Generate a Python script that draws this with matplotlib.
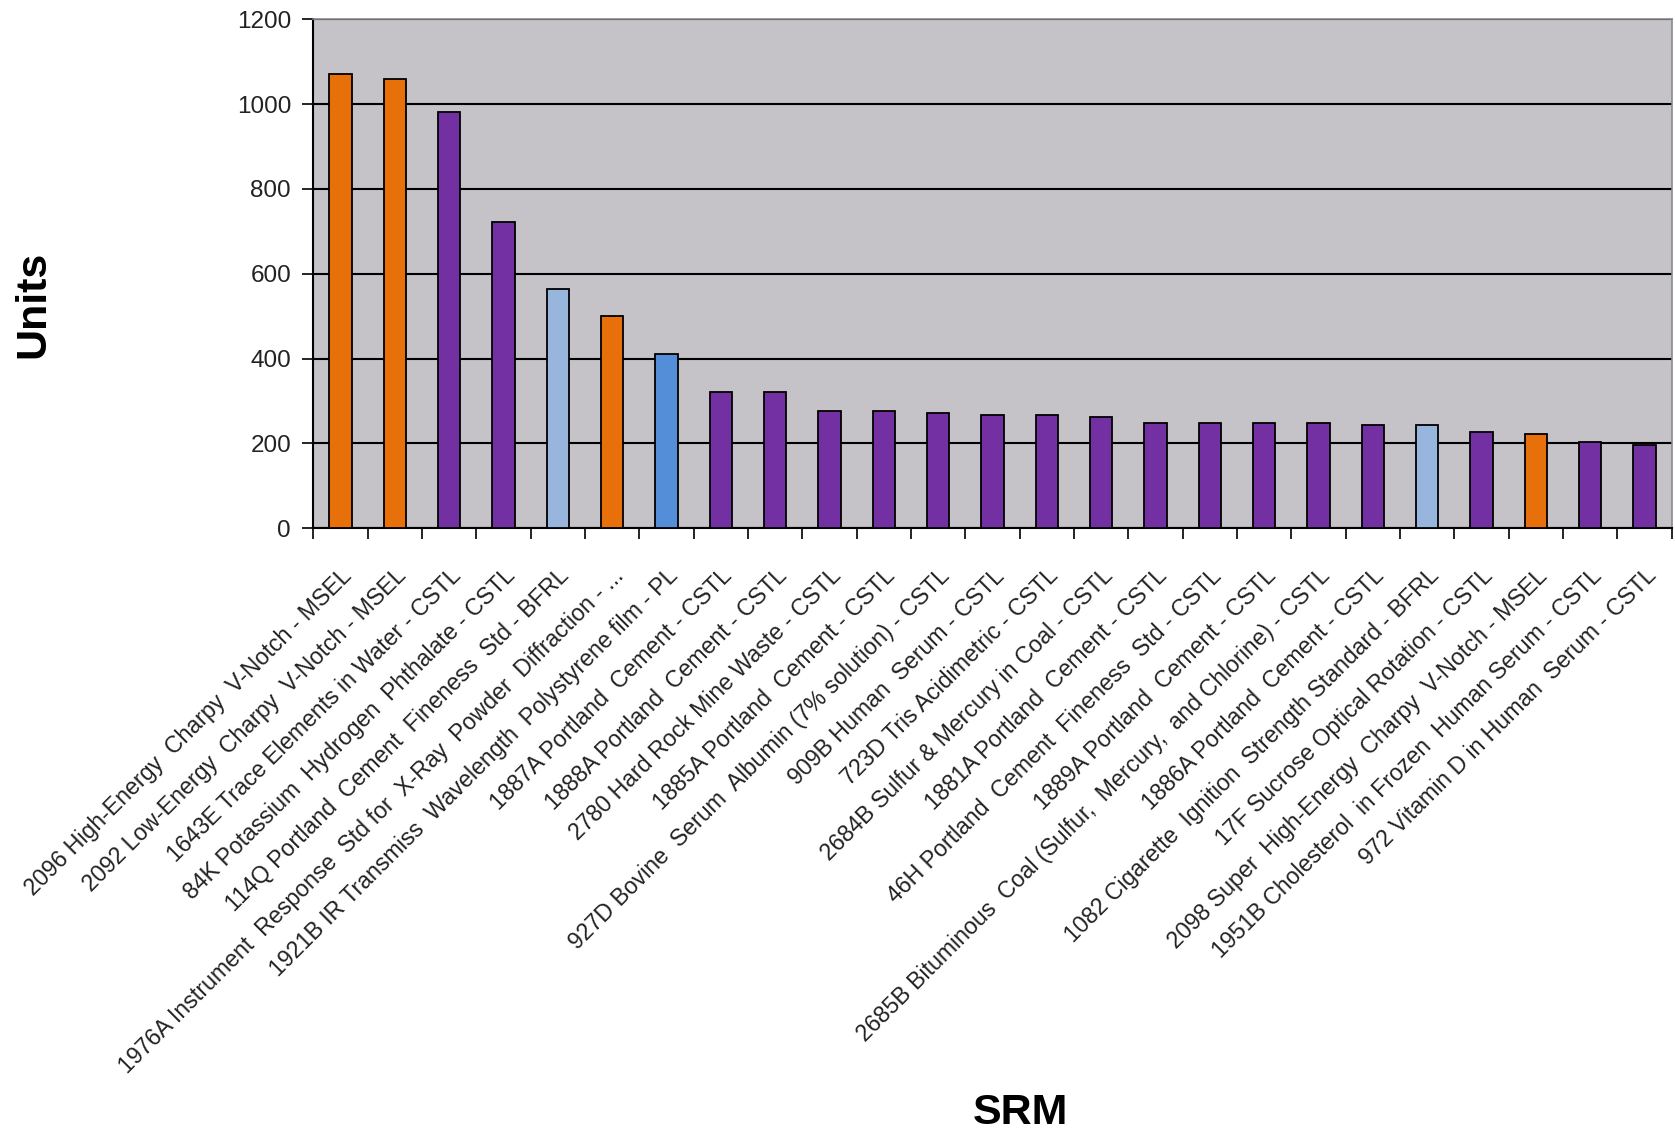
import matplotlib.pyplot as plt
import numpy as np

plt.rcParams['font.family'] = ['Liberation Sans', 'DejaVu Sans']

# Названия SRM и количество единиц
srm_names = [
    "2096 High-Energy  Charpy  V-Notch - MSEL",
    "2092 Low-Energy  Charpy  V-Notch - MSEL",
    "1643E Trace Elements in Water - CSTL",
    "84K Potassium  Hydrogen  Phthalate - CSTL",
    "114Q Portland  Cement  Fineness  Std - BFRL",
    "1976A Instrument  Response  Std for  X-Ray  Powder  Diffraction - ...",
    "1921B IR Transmiss  Wavelength  Polystyrene film - PL",
    "1887A Portland  Cement - CSTL",
    "1888A Portland  Cement - CSTL",
    "2780 Hard Rock Mine Waste - CSTL",
    "1885A Portland  Cement - CSTL",
    "927D Bovine  Serum  Albumin (7% solution) - CSTL",
    "909B Human  Serum - CSTL",
    "723D Tris Acidimetric - CSTL",
    "2684B Sulfur & Mercury in Coal - CSTL",
    "1881A Portland  Cement - CSTL",
    "46H Portland  Cement  Fineness  Std - CSTL",
    "1889A Portland  Cement - CSTL",
    "2685B Bituminous  Coal (Sulfur,  Mercury,  and Chlorine) - CSTL",
    "1886A Portland  Cement - CSTL",
    "1082 Cigarette  Ignition  Strength Standard - BFRL",
    "17F Sucrose Optical Rotation - CSTL",
    "2098 Super  High-Energy  Charpy  V-Notch - MSEL",
    "1951B Cholesterol  in Frozen  Human Serum - CSTL",
    "972 Vitamin D in Human  Serum - CSTL",
]
units = [1072, 1059, 981, 722, 564, 500, 410, 321, 321, 276, 276, 271, 267,
         267, 262, 248, 248, 248, 248, 244, 243, 226, 221, 203, 196]
labs = ["MSEL", "MSEL", "CSTL", "CSTL", "BFRL", "MSEL", "PL", "CSTL", "CSTL",
        "CSTL", "CSTL", "CSTL", "CSTL", "CSTL", "CSTL", "CSTL", "CSTL", "CSTL",
        "CSTL", "CSTL", "BFRL", "CSTL", "MSEL", "CSTL", "CSTL"]

# Цвет столбца по лаборатории
lab_colors = {"MSEL": "#E8700A", "CSTL": "#7230A2", "BFRL": "#98B5DD", "PL": "#558ED8"}
colors = [lab_colors[l] for l in labs]

fig = plt.figure(figsize=(16.75, 11.31), dpi=100)
ax = fig.add_axes([0.187, 0.533, 0.811, 0.45])
ax.set_facecolor('#C5C3C7')

x = np.arange(len(units))
ax.set_axisbelow(True)
ax.yaxis.grid(True, color='black', linewidth=1.5)
ax.bar(x, units, width=0.41, color=colors, edgecolor='black', linewidth=1.3, zorder=3)

ax.set_xlim(-0.5, len(units) - 0.5)
ax.set_ylim(0, 1200)
ax.set_yticks(np.arange(0, 1201, 200))
ax.tick_params(axis='y', labelsize=17.5, length=8, width=1.2, direction='out',
               pad=8, labelcolor='#222222')

# Подписи по центрам столбцов, засечки на границах категорий
ax.set_xticks(x)
ax.set_xticklabels(srm_names, rotation=45, ha='right', rotation_mode='anchor',
                   fontsize=16.7, color='#222222')
ax.tick_params(axis='x', which='major', length=0, pad=26)
ax.set_xticks(np.arange(-0.5, len(units)), minor=True)
ax.tick_params(axis='x', which='minor', length=8, width=1.2, direction='out')

for side in ['left', 'bottom']:
    ax.spines[side].set_color('black')
    ax.spines[side].set_linewidth(1.5)
for side in ['top', 'right']:
    ax.spines[side].set_color('#8a8a8a')
    ax.spines[side].set_linewidth(1.2)

fig.text(33 / 1675, 1 - 304 / 1131, 'Units', fontsize=31, fontweight='bold',
         rotation=90, ha='center', va='center')
fig.text(1020 / 1675, 1 - 1124 / 1131, 'SRM', fontsize=31, fontweight='bold',
         ha='center', va='baseline')

plt.savefig('out.png', dpi=100)
